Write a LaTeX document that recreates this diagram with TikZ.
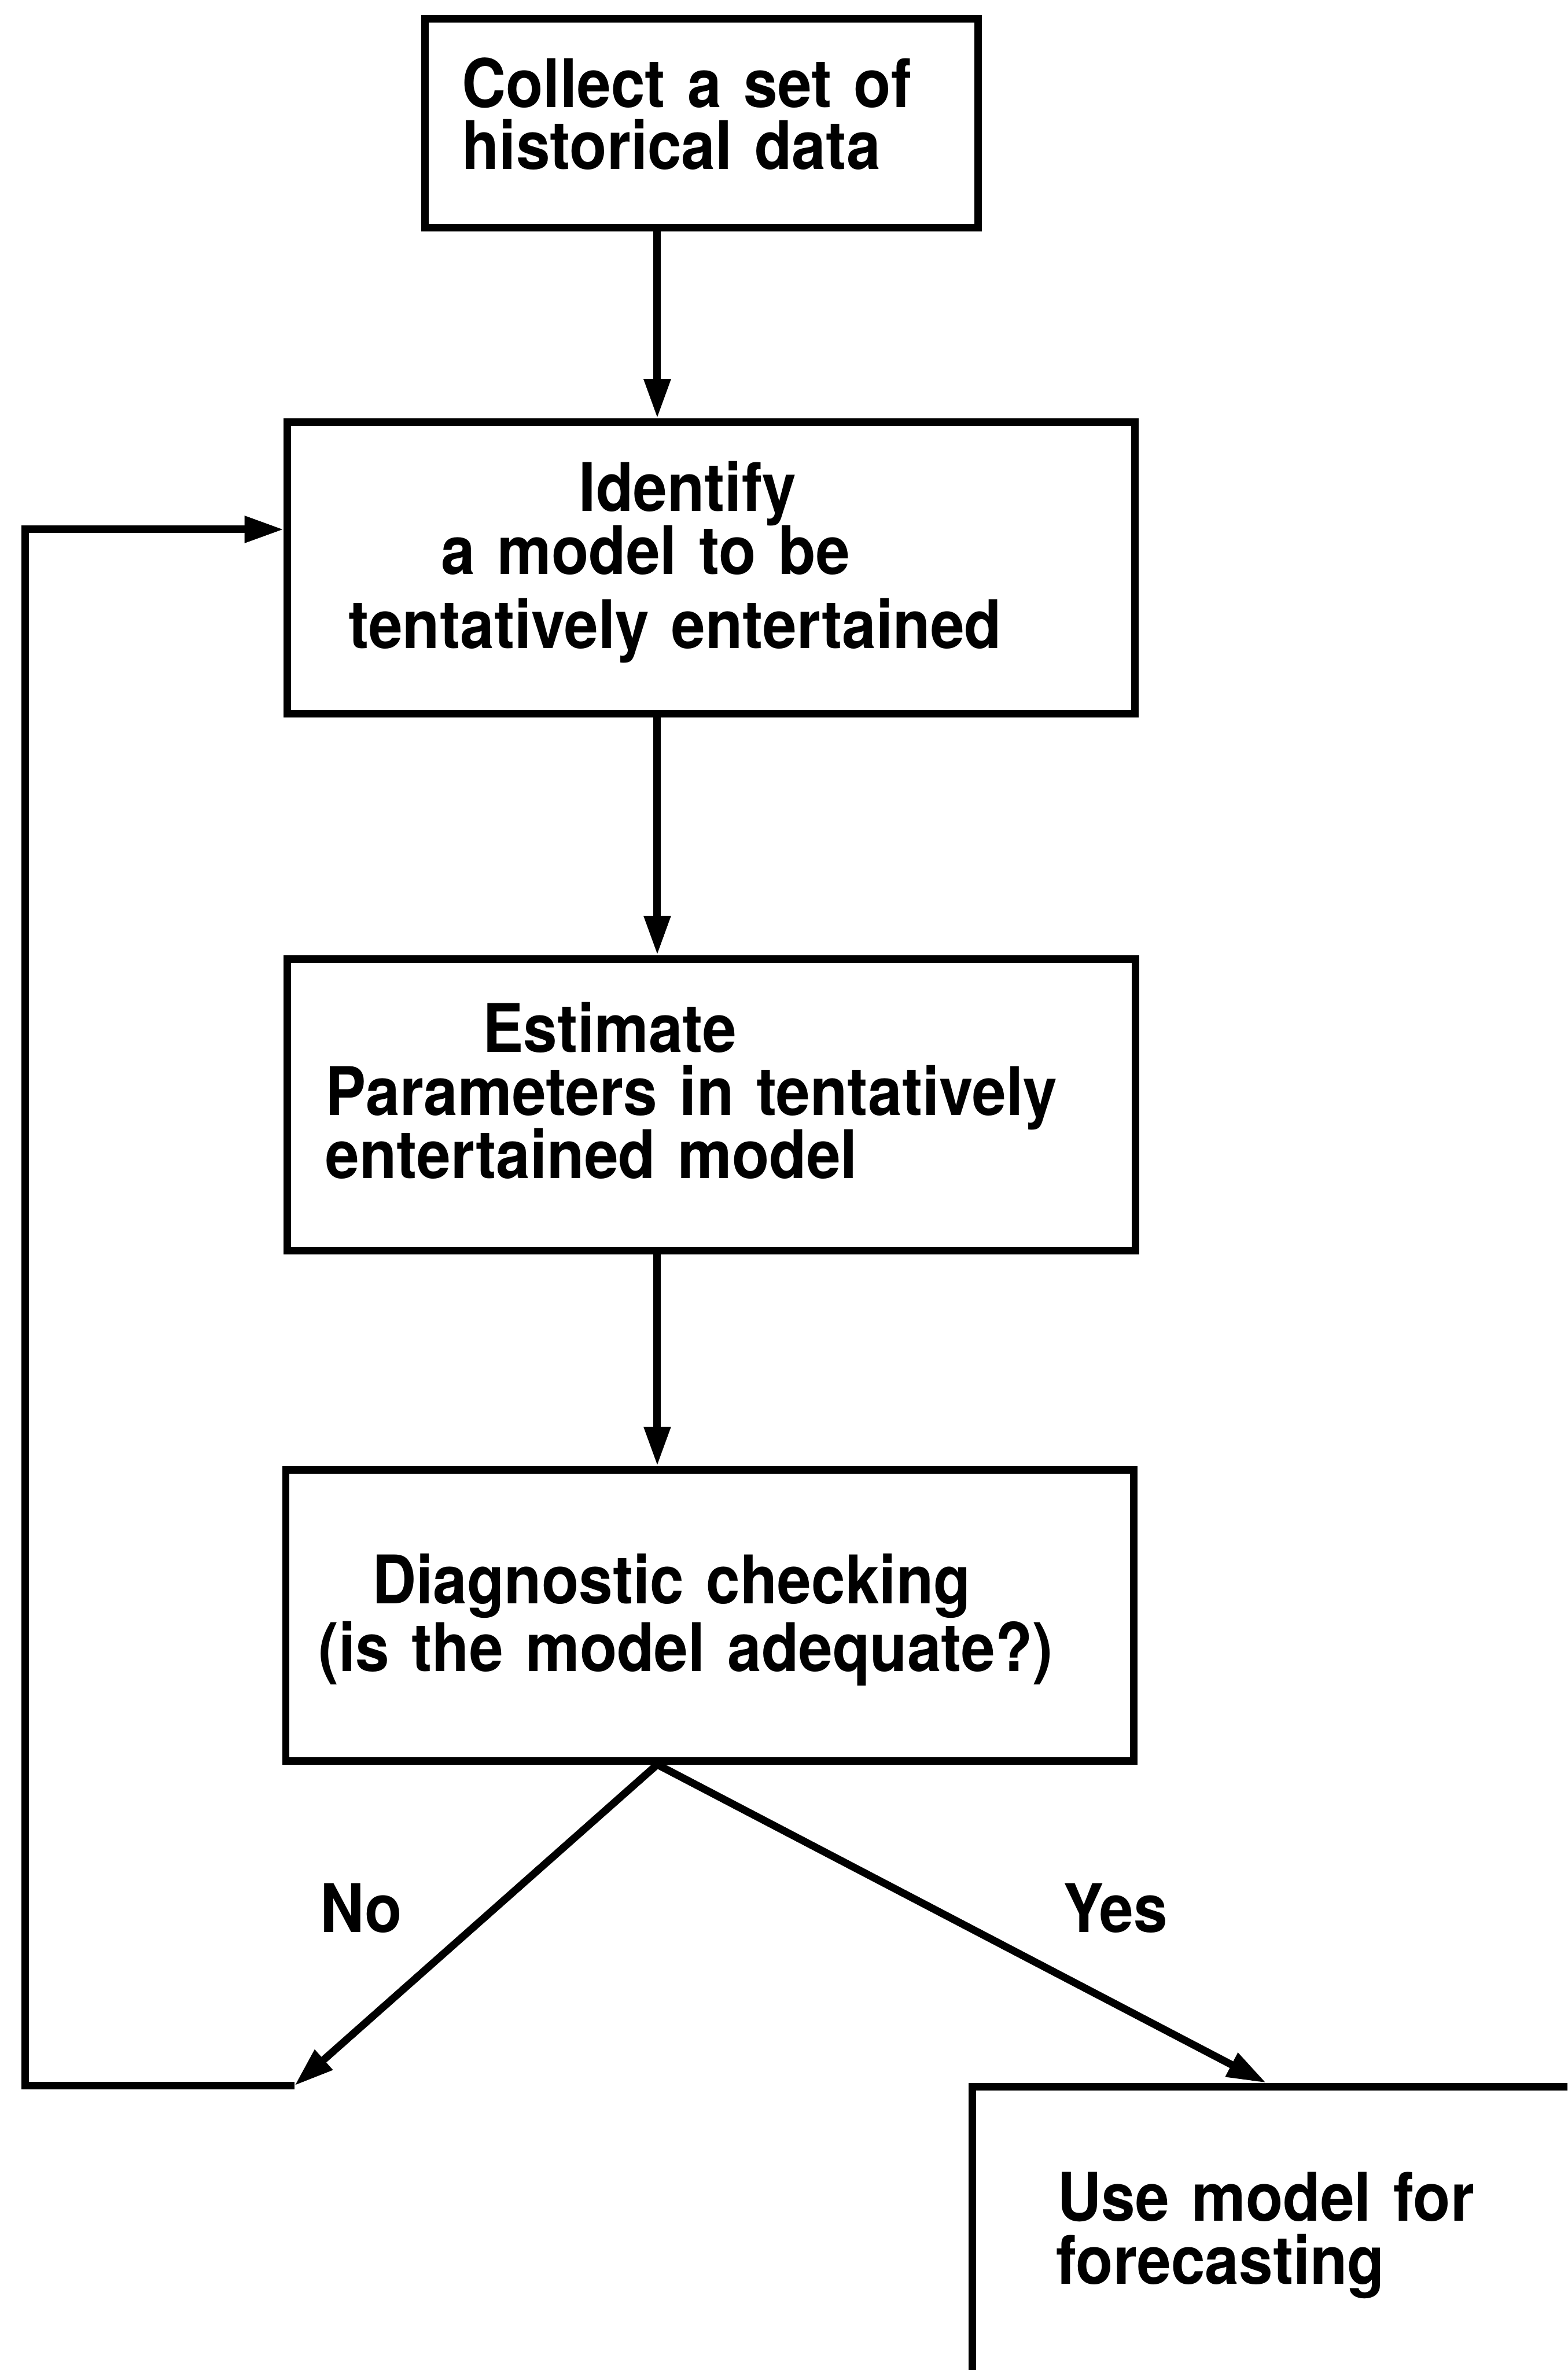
\documentclass[tikz,border=0pt]{standalone}
\usepackage{fontspec}
\setmainfont{TeX Gyre Heros}[FakeStretch=0.91]
\usetikzlibrary{arrows.meta}

\begin{document}
\begin{tikzpicture}[
    box/.style={draw, line width=3.8pt, anchor=north west, inner xsep=0pt, inner ysep=0pt, align=left,
      font={\fontsize{34}{32}\selectfont\bfseries\lineskiplimit=-20pt}},
    lbl/.style={font={\fontsize{34}{32}\selectfont\bfseries}},
    arr/.style={line width=3.8pt, -{Triangle[length=7mm,width=4.5mm]}}
  ]
  \useasboundingbox (0,0) rectangle (27.95,-42.26);
  \clip (0,0) rectangle (27.95,-42.26);

  \node [box, text width=9.86cm, text height=1.58cm, text depth=2.14cm] (collect) at (7.51,-0.27)
    {\hspace*{0.66cm}Collect a set of\\[-0.02cm]\hspace*{0.66cm}historical data};
  \node [box, text width=15.11cm, text height=1.59cm, text depth=3.61cm] (ident) at (5.06,-7.46)
    {\hspace*{5.2cm}Identify\\\hspace*{2.74cm}a model to be\\[0.19cm]\hspace*{1.09cm}tentatively entertained};
  \node [box, text width=15.12cm, text height=1.66cm, text depth=3.54cm] (estim) at (5.06,-17.03)
    {\hspace*{3.48cm}Estimate\\\hspace*{0.68cm}Parameters in tentatively\\\hspace*{0.68cm}entertained model};
  \node [box, text width=15.12cm, text height=2.39cm, text depth=2.8cm] (diag) at (5.03,-26.14)
    {\hspace*{1.54cm}Diagnostic checking\\[0.08cm]\hspace*{0.58cm}(is the model adequate?)};
  \node [box, text width=15cm, text height=2.4cm, text depth=6cm] (use) at (17.27,-37.14)
    {\hspace*{1.52cm}Use model for\\\hspace*{1.5cm}forecasting};

  \node [lbl] (nolbl) at (6.44,-34.02) {No};
  \node [lbl] (yeslbl) at (19.89,-34.02) {Yes};

  \coordinate (spine) at (11.72,0);
  \coordinate (split) at (spine |- diag.south);
  \coordinate (nohead) at (5.25,-37.19);
  \coordinate (yeshead) at (22.58,0);
  \coordinate (loopbl) at (0.45,-37.19);
  \coordinate (looptl) at (0.45,-9.44);

  \draw [arr] (spine |- collect.south) -- (spine |- ident.north);
  \draw [arr] (spine |- ident.south) -- (spine |- estim.north);
  \draw [arr] (spine |- estim.south) -- (spine |- diag.north);
  \draw [arr] (split) -- (nohead);
  \draw [arr] (split) -- (yeshead |- use.north);
  \draw [arr] (nohead) -- (loopbl) -- (looptl) -- (looptl -| ident.west);
\end{tikzpicture}
\end{document}
